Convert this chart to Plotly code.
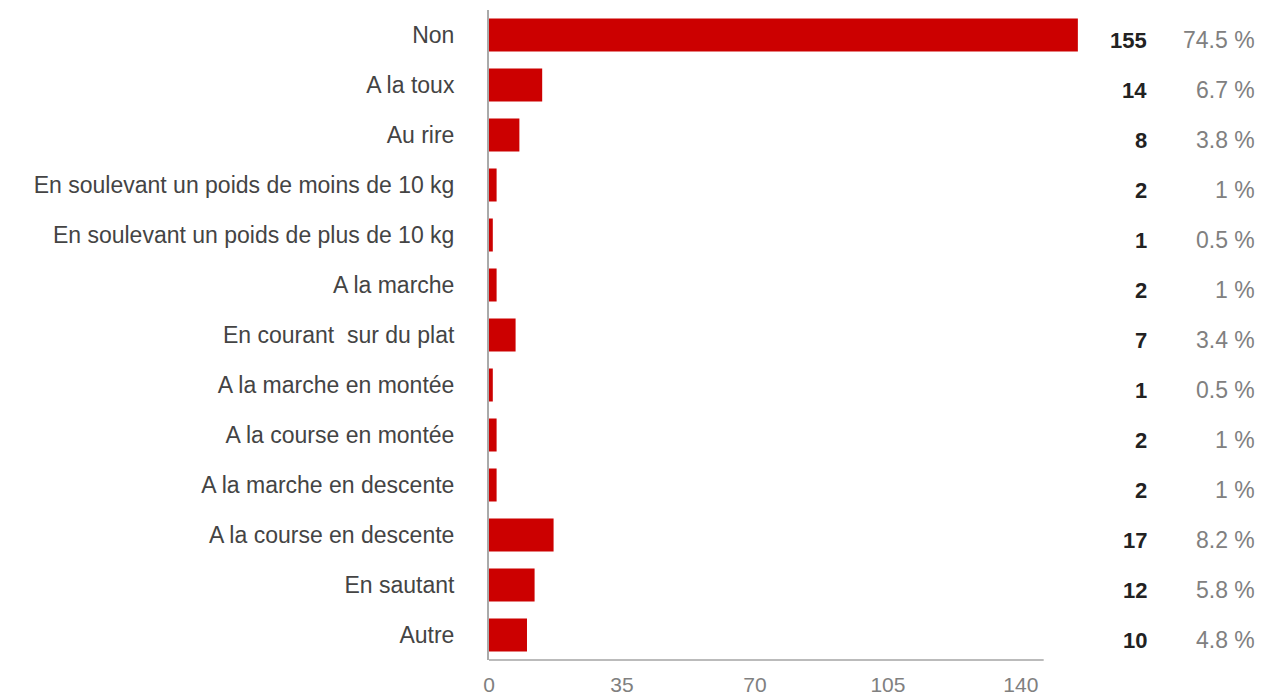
import plotly.graph_objects as go

categories = [
    "Non", "A la toux", "Au rire",
    "En soulevant un poids de moins de 10 kg",
    "En soulevant un poids de plus de 10 kg",
    "A la marche", "En courant  sur du plat",
    "A la marche en montée", "A la course en montée",
    "A la marche en descente", "A la course en descente",
    "En sautant", "Autre",
]
counts = [155, 14, 8, 2, 1, 2, 7, 1, 2, 2, 17, 12, 10]
percents = ["74.5 %", "6.7 %", "3.8 %", "1 %", "0.5 %", "1 %", "3.4 %",
            "0.5 %", "1 %", "1 %", "8.2 %", "5.8 %", "4.8 %"]
tick_values = [0, 35, 70, 105, 140]

# page body adds an 8px offset; compensate
OFF = 8
W, H = 1269 - OFF, 695 - OFF
plot_left, plot_right = 489 - OFF, 1079 - OFF
plot_top, plot_bottom = 10 - OFF, 660 - OFF

fig = go.Figure()
fig.add_trace(go.Bar(
    x=counts, y=categories, orientation="h",
    marker=dict(color="#cc0000", line=dict(width=0)),
    width=0.66, hoverinfo="x+y",
))

FONT = "Liberation Sans, Arial"
annotations = []
for cat, c, p in zip(categories, counts, percents):
    annotations.append(dict(
        x=((1149 - OFF) - plot_left) / (plot_right - plot_left), xref="paper",
        y=cat, yref="y", text=f"<b>{c}</b>",
        showarrow=False, xanchor="right", yanchor="middle", yshift=-5,
        font=dict(family=FONT, size=22, color="#222222"),
    ))
    annotations.append(dict(
        x=((1257 - OFF) - plot_left) / (plot_right - plot_left), xref="paper",
        y=cat, yref="y", text=p,
        showarrow=False, xanchor="right", yanchor="middle", yshift=-5,
        font=dict(family=FONT, size=23, color="#808080"),
    ))

fig.update_layout(
    width=W, height=H,
    margin=dict(l=plot_left, r=W - plot_right, t=plot_top, b=H - plot_bottom, pad=0),
    paper_bgcolor="white", plot_bgcolor="white",
    showlegend=False,
    annotations=annotations,
    xaxis=dict(
        range=[0, 155.3], tickvals=tick_values,
        showgrid=False, zeroline=False, showline=False,
        ticks="", ticklabelstandoff=10, automargin=False,
        tickfont=dict(family=FONT, size=21, color="#808080"),
        fixedrange=True,
    ),
    yaxis=dict(
        categoryorder="array", categoryarray=categories[::-1],
        showgrid=False, zeroline=False,
        showline=True, linecolor="#aaaaaa", linewidth=2,
        ticks="", ticklabelstandoff=28, automargin=False,
        tickfont=dict(family=FONT, size=23, color="#444444"),
        fixedrange=True,
    ),
    shapes=[dict(
        type="line", xref="x", yref="paper",
        x0=0, x1=146, y0=0, y1=0,
        line=dict(color="#bbbbbb", width=2),
    )],
)

fig.write_html("out.html")
